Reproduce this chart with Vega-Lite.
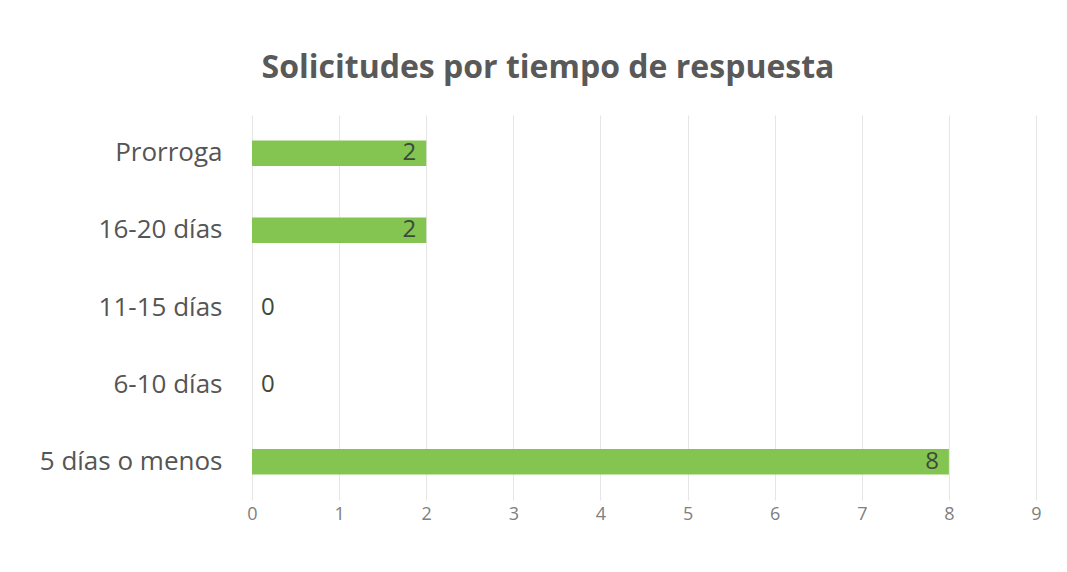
{
  "$schema": "https://vega.github.io/schema/vega-lite/v6.json",
  "autosize": "none",
  "width": 784,
  "height": 385,
  "padding": {"left": 252, "top": 115, "right": 31, "bottom": 72},
  "background": "white",
  "config": {"view": {"stroke": null}, "font": "Open Sans"},
  "title": {
    "text": "Solicitudes por tiempo de respuesta",
    "fontSize": 32,
    "fontWeight": "bold",
    "color": "#595959",
    "font": "Open Sans",
    "anchor": "middle",
    "dx": -96,
    "offset": 30
  },
  "data": {
    "values": [
      {"cat": "Prorroga", "n": 2},
      {"cat": "16-20 días", "n": 2},
      {"cat": "11-15 días", "n": 0},
      {"cat": "6-10 días", "n": 0},
      {"cat": "5 días o menos", "n": 8}
    ]
  },
  "encoding": {
    "y": {
      "field": "cat",
      "type": "nominal",
      "sort": ["Prorroga", "16-20 días", "11-15 días", "6-10 días", "5 días o menos"],
      "scale": {"paddingInner": 0.67, "paddingOuter": 0.33},
      "axis": {
        "title": null,
        "domain": false,
        "ticks": false,
        "labelFontSize": 26,
        "labelColor": "#555555",
        "labelPadding": 30,
        "labelFont": "Open Sans",
        "labelLimit": 300
      }
    },
    "x": {
      "field": "n",
      "type": "quantitative",
      "scale": {"domain": [0, 9], "nice": false},
      "axis": {
        "title": null,
        "domain": false,
        "ticks": false,
        "values": [0, 1, 2, 3, 4, 5, 6, 7, 8, 9],
        "labelOverlap": false,
        "labelFlush": false,
        "grid": true,
        "gridColor": "#e6e6e6",
        "labelFontSize": 18,
        "labelColor": "#808080",
        "labelPadding": 5,
        "labelFont": "Open Sans"
      }
    }
  },
  "layer": [
    {"mark": {"type": "bar", "color": "#84c451"}},
    {
      "transform": [{"filter": "datum.n > 0"}],
      "mark": {"type": "text", "align": "right", "dx": -10, "fontSize": 24, "color": "#3d4a3a", "baseline": "middle"},
      "encoding": {"text": {"field": "n", "type": "quantitative"}}
    },
    {
      "transform": [{"filter": "datum.n == 0"}],
      "mark": {"type": "text", "align": "left", "dx": 9, "fontSize": 24, "color": "#3d4a3a", "baseline": "middle"},
      "encoding": {"text": {"field": "n", "type": "quantitative"}}
    }
  ]
}
